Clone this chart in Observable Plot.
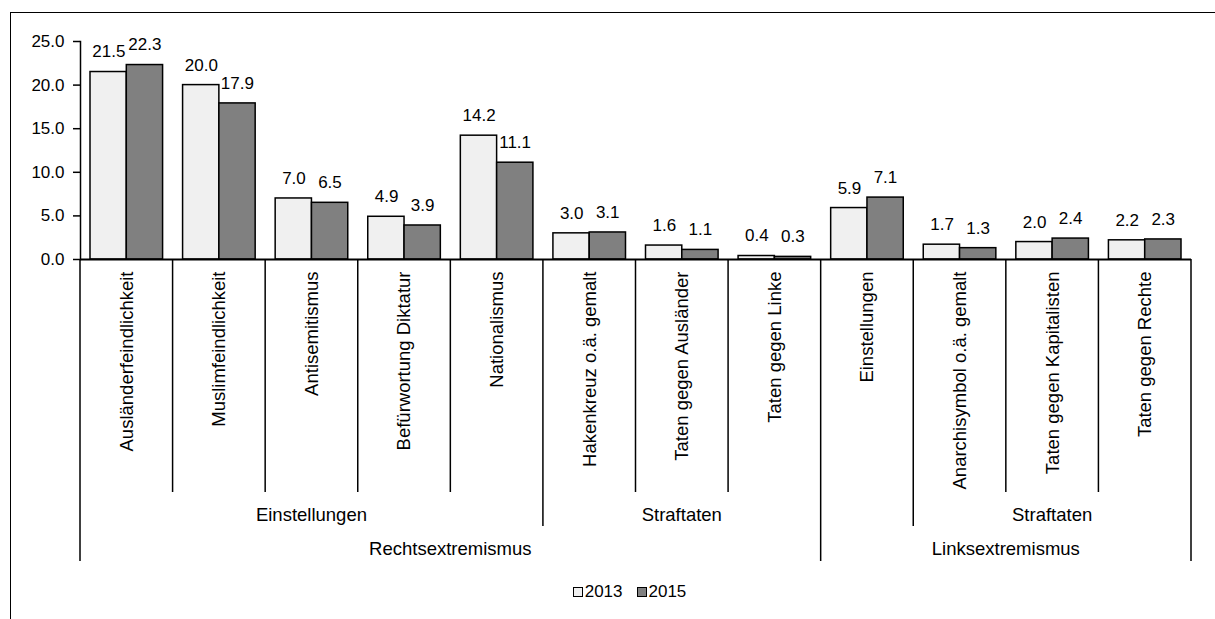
<!DOCTYPE html>
<html>
<head>
<meta charset="utf-8">
<script src="https://cdn.jsdelivr.net/npm/d3@7"></script>
<script src="https://cdn.jsdelivr.net/npm/@observablehq/plot@0.6"></script>
<style>
  html, body { margin: 0; padding: 0; background: #fff; }
  body { width: 1215px; height: 619px; position: relative; overflow: hidden; font-family: "Liberation Sans", Arial, sans-serif; }
  #frame { position: absolute; left: 10px; top: 12px; width: 1400px; height: 800px; border-left: 1.5px solid #000; border-top: 1.5px solid #000; box-sizing: border-box; }
  #chart { position: absolute; left: 0; top: 0; }
  #legend { position: absolute; left: 22px; top: 580px; width: 1215px; display: flex; justify-content: center; gap: 14px; font-size: 17px; line-height: 24px; color: #000; }
  .item { display: flex; align-items: center; gap: 2px; }
  .sw { width: 8px; height: 8px; border: 1.5px solid #000; display: inline-block; }
</style>
</head>
<body>
<div id="frame"></div>
<div id="chart"></div>
<div id="legend"></div>
<script>
// ---- data ----
const categories = [
  "Ausländerfeindlichkeit", "Muslimfeindlichkeit", "Antisemitismus", "Befürwortung Diktatur",
  "Nationalismus", "Hakenkreuz o.ä. gemalt", "Taten gegen Ausländer", "Taten gegen Linke",
  "Einstellungen", "Anarchisymbol o.ä. gemalt", "Taten gegen Kapitalisten", "Taten gegen Rechte"
];
const values2013 = [21.5, 20.0, 7.0, 4.9, 14.2, 3.0, 1.6, 0.4, 5.9, 1.7, 2.0, 2.2];
const values2015 = [22.3, 17.9, 6.5, 3.9, 11.1, 3.1, 1.1, 0.3, 7.1, 1.3, 2.4, 2.3];
const years = ["2013", "2015"];
const level2Labels = ["Einstellungen", "Straftaten", "", "Straftaten"];
const level2Spans = [5, 3, 1, 3];
const level3Labels = ["Rechtsextremismus", "Linksextremismus"];
const level3Spans = [8, 4];
const yTicks = [0, 5, 10, 15, 20, 25];

// ---- styles ----
const colors = {"2013": "#f0f0f0", "2015": "#808080"};
const FONT = "'Liberation Sans', Arial, sans-serif";

const d2013 = categories.map((c, i) => ({category: c, value: values2013[i]}));
const d2015 = categories.map((c, i) => ({category: c, value: values2015[i]}));

function hierarchy(index, scales, values, dimensions) {
  const x = scales.x, y = scales.y;
  const step = x(categories[1]) - x(categories[0]);
  const pos = i => i < categories.length ? x(categories[i]) : x(categories[categories.length - 1]) + step;
  const y0 = y(0);
  const g = d3.create("svg:g").attr("font-family", FONT).attr("fill", "#000");
  const depth = new Array(categories.length + 1).fill(1);
  let acc = 0;
  level2Spans.forEach(s => { acc += s; depth[acc] = Math.max(depth[acc], 2); });
  acc = 0; depth[0] = 3;
  level3Spans.forEach(s => { acc += s; depth[acc] = 3; });
  const lens = {1: 233, 2: 267, 3: 302};
  depth.forEach((dp, i) => {
    g.append("line").attr("x1", pos(i)).attr("x2", pos(i))
      .attr("y1", y0).attr("y2", y0 + lens[dp])
      .attr("stroke", "#000").attr("stroke-width", 1.5);
  });
  let s = 0;
  level2Labels.forEach((lab, k) => {
    const a = pos(s), b = pos(s + level2Spans[k]);
    s += level2Spans[k];
    if (!lab) return;
    g.append("text").attr("x", (a + b) / 2).attr("y", y0 + 256).attr("dy", "0.35em")
      .attr("text-anchor", "middle").attr("font-size", 18.5).text(lab);
  });
  s = 0;
  level3Labels.forEach((lab, k) => {
    const a = pos(s), b = pos(s + level3Spans[k]);
    s += level3Spans[k];
    g.append("text").attr("x", (a + b) / 2).attr("y", y0 + 290).attr("dy", "0.35em")
      .attr("text-anchor", "middle").attr("font-size", 18.5).text(lab);
  });
  return g.node();
}

const chart = Plot.plot({
  width: 1215,
  height: 575,
  marginLeft: 80,
  marginRight: 24,
  marginTop: 41,
  marginBottom: 316,
  style: {fontFamily: FONT, fontSize: "17px", color: "#000", background: "transparent"},
  x: {domain: categories, padding: 0, round: false, axis: null},
  y: {domain: [0, 25], axis: null},
  marks: [
    Plot.barY(d2013, {x: "category", y: "value", fill: colors["2013"], stroke: "#000", strokeWidth: 1.5, insetLeft: 10, insetRight: 46.3}),
    Plot.barY(d2015, {x: "category", y: "value", fill: colors["2015"], stroke: "#000", strokeWidth: 1.5, insetLeft: 46.3, insetRight: 10}),
    Plot.text(d2013, {x: "category", y: "value", text: d => d.value.toFixed(1), dx: -18, dy: -20, fontSize: 17, fill: "#000"}),
    Plot.text(d2015, {x: "category", y: "value", text: d => d.value.toFixed(1), dx: 18, dy: -20, fontSize: 17, fill: "#000"}),
    Plot.text(categories, {x: d => d, y: () => 0, text: d => d, rotate: -90, textAnchor: "end", lineAnchor: "middle", dy: 12, fontSize: 18.5, fill: "#000"}),
    Plot.axisY({ticks: yTicks, tickFormat: d => d.toFixed(1), tickSize: 7, tickPadding: 9, fontSize: 17, stroke: "#000", strokeWidth: 1.5, label: null, color: "#000"}),
    Plot.frame({anchor: "left", stroke: "#000", strokeWidth: 1.5}),
    Plot.ruleY([0], {stroke: "#000", strokeWidth: 2}),
    hierarchy
  ]
});
document.getElementById("chart").appendChild(chart);

const legend = document.getElementById("legend");
years.forEach(yr => {
  const it = document.createElement("div");
  it.className = "item";
  const sw = document.createElement("span");
  sw.className = "sw";
  sw.style.background = colors[yr];
  it.appendChild(sw);
  const t = document.createElement("span");
  t.textContent = yr;
  it.appendChild(t);
  legend.appendChild(it);
});
</script>
</body>
</html>
